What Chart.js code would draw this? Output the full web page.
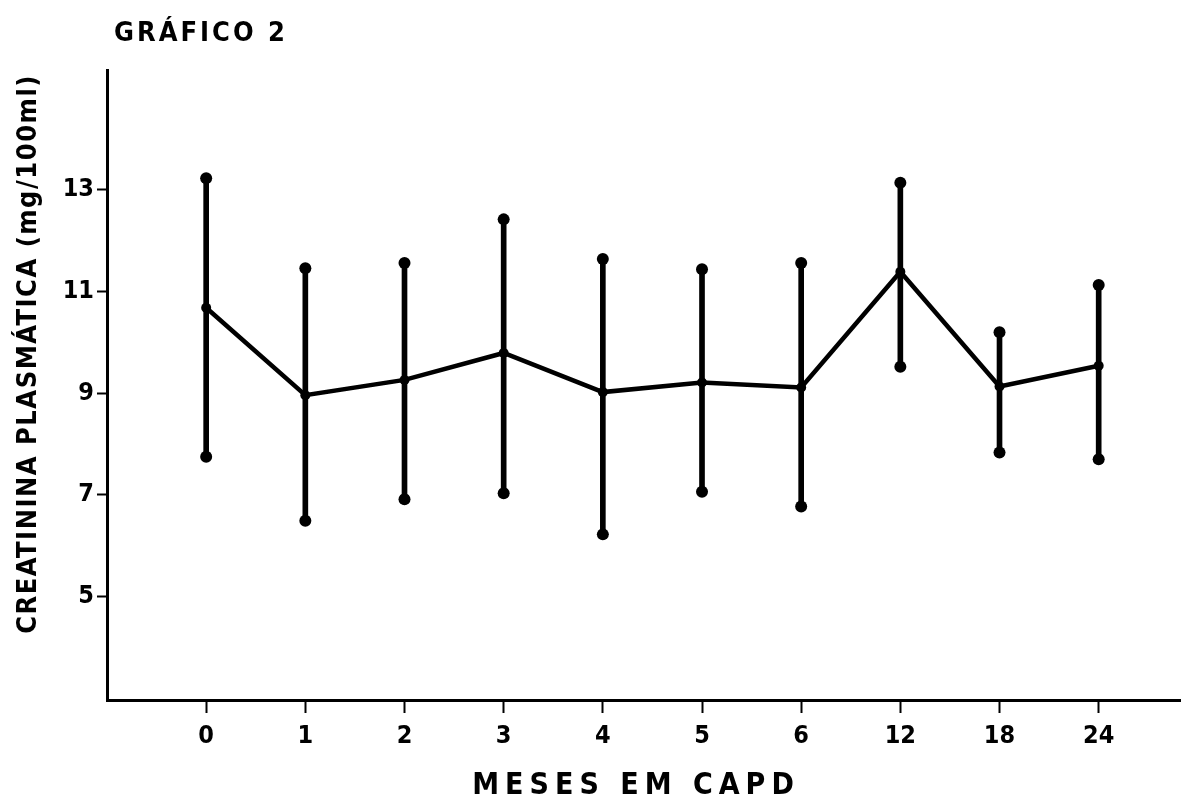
<!DOCTYPE html>
<html>
<head>
<meta charset="utf-8">
<script src="https://cdn.jsdelivr.net/npm/chart.js@4.4.1/dist/chart.umd.min.js"></script>
<style>
  html, body { margin: 0; padding: 0; background: #fff; }
  #wrap { width: 1200px; height: 810px; }
</style>
</head>
<body>
<div id="wrap"><canvas id="grafico"></canvas></div>
<script>
// meses em CAPD
var months = ['0', '1', '2', '3', '4', '5', '6', '12', '18', '24'];
// creatinina plasmatica: media e limites (mg/100ml)
var mean  = [10.68, 8.96, 9.26, 9.79, 9.02, 9.21, 9.11, 11.39, 9.13, 9.54];
var upper = [13.23, 11.46, 11.56, 12.42, 11.64, 11.44, 11.56, 13.14, 10.20, 11.13];
var lower = [7.75, 6.49, 6.91, 7.03, 6.22, 7.06, 6.77, 9.52, 7.83, 7.70];
var yTicks = [5, 7, 9, 11, 13];

var fontFam = '"DejaVu Sans Condensed", "DejaVu Sans", sans-serif';

var whiskers = [], ends = [], line = [];
for (var i = 0; i < months.length; i++) {
  whiskers.push({ x: i, y: [lower[i], upper[i]] });
  ends.push({ x: i, y: upper[i] });
  ends.push({ x: i, y: lower[i] });
  line.push({ x: i, y: mean[i] });
}

// titles drawn on the canvas at their place in the reference
var titles = {
  id: 'titles',
  afterDraw: function(chart) {
    var ctx = chart.ctx;
    ctx.save();
    ctx.fillStyle = '#000';
    ctx.textBaseline = 'middle';

    ctx.font = 'bold 27px ' + fontFam;
    ctx.letterSpacing = '3px';
    ctx.textAlign = 'left';
    ctx.fillText('GRÁFICO 2', 114, 34);

    ctx.font = 'bold 30px ' + fontFam;
    ctx.letterSpacing = '6px';
    ctx.textAlign = 'center';
    ctx.fillText('MESES EM CAPD', 636, 786);

    ctx.translate(29, 354);
    ctx.rotate(-Math.PI / 2);
    ctx.font = 'bold 27px ' + fontFam;
    ctx.letterSpacing = '1.5px';
    ctx.fillText('CREATININA PLASMÁTICA (mg/100ml)', 0, 0);
    ctx.restore();
  }
};

new Chart(document.getElementById('grafico'), {
  type: 'bar',
  data: {
    datasets: [
      {
        type: 'line',
        data: line,
        borderColor: '#000',
        borderWidth: 4.5,
        backgroundColor: '#000',
        pointRadius: 5,
        pointBorderWidth: 0,
        tension: 0,
        order: 1
      },
      {
        type: 'scatter',
        data: ends,
        backgroundColor: '#000',
        borderWidth: 0,
        pointRadius: 6,
        order: 2
      },
      {
        type: 'bar',
        data: whiskers,
        backgroundColor: '#000',
        barThickness: 5,
        grouped: false,
        order: 3
      }
    ]
  },
  options: {
    responsive: true,
    maintainAspectRatio: false,
    animation: false,
    layout: { padding: { left: 0, right: 20, top: 70, bottom: 0 } },
    plugins: {
      legend: { display: false },
      tooltip: { enabled: false },
      title: { display: false }
    },
    scales: {
      x: {
        type: 'linear',
        min: -1,
        max: 9.82,
        offset: false,
        afterBuildTicks: function(s) {
          s.ticks = months.map(function(m, i) { return { value: i }; });
        },
        afterFit: function(s) { s.height = 110; },
        ticks: {
          autoSkip: false,
          maxRotation: 0,
          color: '#000',
          padding: 8,
          font: { family: fontFam, weight: 'bold', size: 25 },
          callback: function(v) { return months[v]; }
        },
        grid: { offset: false, drawOnChartArea: false, drawTicks: true, tickLength: 13, tickWidth: 2, color: '#000' },
        border: { display: true, color: '#000', width: 3 }
      },
      y: {
        type: 'linear',
        min: 2.96,
        max: 15.36,
        afterBuildTicks: function(s) {
          s.ticks = yTicks.map(function(v) { return { value: v }; });
        },
        afterFit: function(s) { s.width = 107; },
        ticks: {
          color: '#000',
          padding: 3,
          font: { family: fontFam, weight: 'bold', size: 25 }
        },
        grid: { drawOnChartArea: false, drawTicks: true, tickLength: 10, tickWidth: 2, color: '#000' },
        border: { display: true, color: '#000', width: 3 }
      }
    }
  },
  plugins: [titles]
});
</script>
</body>
</html>
